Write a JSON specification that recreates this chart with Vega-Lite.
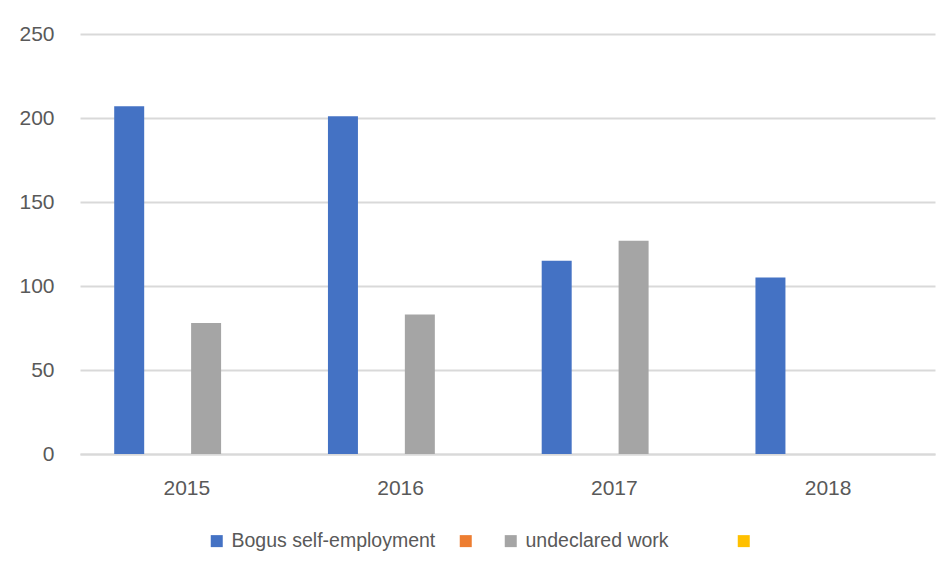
{
  "$schema": "https://vega.github.io/schema/vega-lite/v6.json",
  "width": 855,
  "height": 420,
  "autosize": "none",
  "padding": {"left": 80, "top": 34, "right": 17, "bottom": 123},
  "background": "white",
  "config": {
    "view": {"stroke": null},
    "font": "Liberation Sans",
    "axis": {"labelColor": "#595959", "labelFontSize": 21, "title": null, "ticks": false}
  },
  "data": {
    "values": [
      {"year": "2015", "series": "Bogus self-employment", "value": 207},
      {"year": "2015", "series": "undeclared work", "value": 78},
      {"year": "2016", "series": "Bogus self-employment", "value": 201},
      {"year": "2016", "series": "undeclared work", "value": 83},
      {"year": "2017", "series": "Bogus self-employment", "value": 115},
      {"year": "2017", "series": "undeclared work", "value": 127},
      {"year": "2018", "series": "Bogus self-employment", "value": 105}
    ]
  },
  "mark": {"type": "bar"},
  "encoding": {
    "x": {
      "field": "year",
      "type": "nominal",
      "scale": {"paddingInner": 0.32, "paddingOuter": 0.16},
      "axis": {"labelAngle": 0, "domainColor": "#D9D9D9", "domainWidth": 2, "labelPadding": 23, "grid": false}
    },
    "xOffset": {
      "field": "series",
      "type": "nominal",
      "scale": {"domain": ["Bogus self-employment", "s2", "undeclared work", "s4"], "paddingInner": 0.22, "paddingOuter": 0}
    },
    "y": {
      "field": "value",
      "type": "quantitative",
      "scale": {"domain": [0, 250]},
      "axis": {"values": [0, 50, 100, 150, 200, 250], "domain": false, "gridColor": "#D9D9D9", "gridWidth": 2, "labelPadding": 26}
    },
    "color": {
      "field": "series",
      "type": "nominal",
      "scale": {
        "domain": ["Bogus self-employment", "s2", "undeclared work", "s4"],
        "range": ["#4472C4", "#ED7D31", "#A5A5A5", "#FFC000"]
      },
      "legend": {
        "title": null,
        "orient": "none",
        "direction": "horizontal",
        "legendX": 127,
        "legendY": 497,
        "symbolType": "square",
        "symbolSize": 144,
        "symbolStrokeWidth": 0,
        "symbolOpacity": 1,
        "labelFontSize": 19.5,
        "labelLimit": 0,
        "labelColor": "#595959",
        "labelOffset": 5,
        "columnPadding": 20,
        "labelExpr": "datum.label == 's2' || datum.label == 's4' ? '' : datum.label == 'undeclared work' ? 'undeclared work\u2800\u2800\u2800' : datum.label"
      }
    }
  }
}
